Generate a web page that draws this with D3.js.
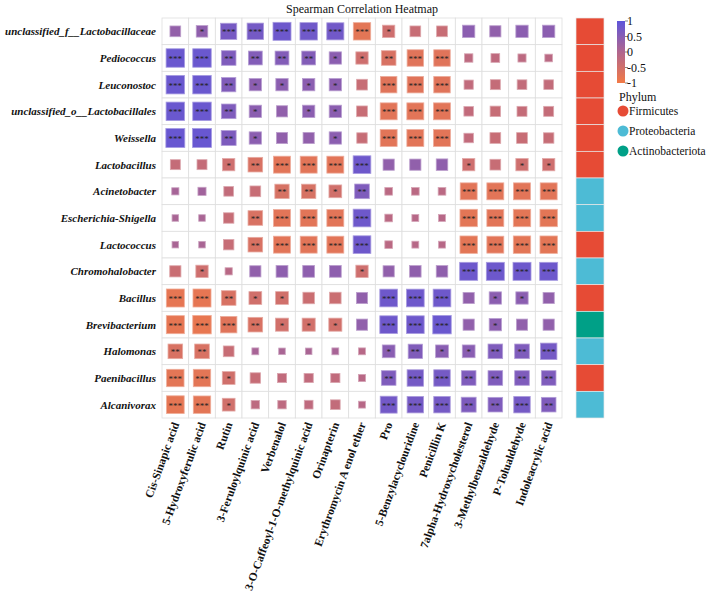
<!DOCTYPE html>
<html><head><meta charset="utf-8">
<script src="https://cdn.jsdelivr.net/npm/d3@7"></script>
<style>body{margin:0;background:#fff}svg{display:block}</style>
</head><body>
<svg id="chart" width="708" height="598"></svg>
<script>
const rowNames = ["unclassified_f__Lactobacillaceae","Pediococcus","Leuconostoc","unclassified_o__Lactobacillales","Weissella","Lactobacillus","Acinetobacter","Escherichia-Shigella","Lactococcus","Chromohalobacter","Bacillus","Brevibacterium","Halomonas","Paenibacillus","Alcanivorax"];
const colNames = ["Cis-Sinapic acid","5-Hydroxyferulic acid","Rutin","3-Feruloylquinic acid","Verbenalol","3-O-Caffeoyl-1-O-methylquinic acid","Orinapterin","Erythromycin A enol ether","Pro","5-Benzylacyclouridine","Penicillin K","7alpha-Hydroxycholesterol","3-Methylbenzaldehyde","P-Tolualdehyde","Indoleacrylic acid"];
const phylumOfRow = ["Firmicutes","Firmicutes","Firmicutes","Firmicutes","Firmicutes","Firmicutes","Proteobacteria","Proteobacteria","Firmicutes","Proteobacteria","Firmicutes","Actinobacteriota","Proteobacteria","Firmicutes","Proteobacteria"];
const phylumNames = ["Firmicutes","Proteobacteria","Actinobacteriota"];
const phylumColors = ["#E64B35","#4DBBD5","#00A087"];
const legendTicks = [1,0.5,0,-0.5,-1];

// correlation coefficients, one array per row
const rValues = [
 [0.35,0.40,0.70,0.72,0.82,0.78,0.76,-0.78,-0.45,-0.35,-0.35,0.45,0.38,0.45,0.45],
 [0.85,0.85,0.60,0.55,0.55,0.55,0.45,-0.45,-0.60,-0.72,-0.72,-0.20,-0.22,-0.18,-0.15],
 [0.85,0.85,0.58,0.45,0.45,0.45,0.45,-0.35,-0.72,-0.72,-0.72,-0.25,-0.30,-0.28,-0.28],
 [0.85,0.85,0.60,0.45,0.38,0.45,0.45,-0.35,-0.75,-0.75,-0.75,-0.27,-0.33,-0.30,-0.30],
 [0.88,0.88,0.62,0.45,0.38,0.38,0.45,-0.33,-0.75,-0.75,-0.75,-0.27,-0.35,-0.35,-0.33],
 [-0.30,-0.30,-0.45,-0.60,-0.75,-0.75,-0.75,0.80,0.38,0.38,0.40,-0.45,-0.35,-0.45,-0.45],
 [0.12,0.18,-0.28,-0.35,-0.58,-0.58,-0.48,0.60,-0.15,-0.15,-0.15,-0.75,-0.75,-0.75,-0.75],
 [0.08,0.08,-0.33,-0.60,-0.75,-0.75,-0.75,0.80,-0.15,-0.10,-0.10,-0.78,-0.75,-0.78,-0.78],
 [0.08,0.08,-0.33,-0.60,-0.75,-0.75,-0.75,0.80,-0.15,-0.10,-0.10,-0.78,-0.75,-0.78,-0.78],
 [-0.38,-0.45,-0.12,0.38,0.42,0.42,0.42,-0.45,0.38,0.40,0.40,0.82,0.82,0.82,0.82],
 [-0.82,-0.82,-0.60,-0.48,-0.48,-0.40,-0.40,0.38,0.80,0.80,0.80,0.38,0.45,0.45,0.38],
 [-0.82,-0.85,-0.72,-0.60,-0.50,-0.50,-0.50,0.38,0.80,0.80,0.85,0.38,0.45,0.38,0.38],
 [-0.60,-0.60,-0.35,0.10,0.08,0.08,0.10,-0.10,0.48,0.58,0.48,0.48,0.60,0.60,0.72],
 [-0.78,-0.78,-0.48,-0.33,-0.25,-0.25,-0.25,-0.12,0.60,0.72,0.72,0.60,0.60,0.60,0.60],
 [-0.80,-0.78,-0.48,-0.20,-0.20,-0.22,-0.28,-0.10,0.75,0.72,0.72,0.62,0.60,0.72,0.60]
];
// significance marks, one array per row
const starMarks = [
 ["","*","***","***","***","***","***","***","*","","","","","",""],
 ["***","***","**","**","**","**","*","*","**","***","***","","","",""],
 ["***","***","**","*","*","*","*","","***","***","***","","","",""],
 ["***","***","**","*","","*","*","","***","***","***","","","",""],
 ["***","***","**","*","","","*","","***","***","***","","","",""],
 ["","","*","**","***","***","***","***","","","","*","","*","*"],
 ["","","","","**","**","*","**","","","","***","***","***","***"],
 ["","","","**","***","***","***","***","","","","***","***","***","***"],
 ["","","","**","***","***","***","***","","","","***","***","***","***"],
 ["","*","","","","","","*","","","","***","***","***","***"],
 ["***","***","**","*","*","","","","***","***","***","","*","*",""],
 ["***","***","***","**","*","*","*","","***","***","***","","*","",""],
 ["**","**","","","","","","","*","**","*","*","**","**","***"],
 ["***","***","*","","","","","","**","***","***","**","**","**","**"],
 ["***","***","*","","","","","","***","***","***","**","**","***","**"]
];

const svg = d3.select("#chart");
const serif = "'Liberation Serif','DejaVu Serif',serif";
const gx0 = 162, gy0 = 18, gSize = 400;
const x = d3.scaleBand().domain(colNames).range([gx0, gx0 + gSize]);
const y = d3.scaleBand().domain(rowNames).range([gy0, gy0 + gSize]);
const color = d3.scaleLinear().domain([-1,0,1]).range(["#F27A46","#B0668E","#5E55DA"]).interpolate(d3.interpolateRgb);
const side = d3.scaleLinear().domain([0,1]).range([0.2*x.bandwidth(), 0.78*x.bandwidth()]);
const phyColor = d3.scaleOrdinal().domain(phylumNames).range(phylumColors);

svg.append("text").attr("x", 362).attr("y", 13).attr("text-anchor","middle")
  .attr("font-family", serif).attr("font-size", 12).attr("fill","#111")
  .text("Spearman Correlation Heatmap");

const cells = [];
rowNames.forEach((r,i)=>colNames.forEach((c,j)=>cells.push({r,c,v:rValues[i][j],s:starMarks[i][j]})));

const g = svg.append("g");
g.selectAll("rect.cell").data(cells).join("rect").attr("class","cell")
  .attr("x", d=>x(d.c)).attr("y", d=>y(d.r))
  .attr("width", x.bandwidth()).attr("height", y.bandwidth())
  .attr("fill","#fff").attr("stroke","#dedede").attr("stroke-width",0.8);

g.selectAll("rect.sq").data(cells).join("rect").attr("class","sq")
  .attr("x", d=>x(d.c)+x.bandwidth()/2-side(Math.abs(d.v))/2)
  .attr("y", d=>y(d.r)+y.bandwidth()/2-side(Math.abs(d.v))/2)
  .attr("width", d=>side(Math.abs(d.v))).attr("height", d=>side(Math.abs(d.v)))
  .attr("fill", d=>color(d.v))
  .attr("stroke", d=>d3.interpolateRgb(color(d.v), "#fff")(0.4)).attr("stroke-width",0.8);

g.selectAll("text.star").data(cells.filter(d=>d.s)).join("text").attr("class","star")
  .attr("x", d=>x(d.c)+x.bandwidth()/2).attr("y", d=>y(d.r)+y.bandwidth()/2+4)
  .attr("text-anchor","middle").attr("font-family", serif).attr("font-size", 9)
  .attr("fill","#222").text(d=>d.s);

// row labels
svg.selectAll("text.rowlab").data(rowNames).join("text").attr("class","rowlab")
  .attr("x", 156).attr("y", d=>y(d)+y.bandwidth()/2+4)
  .attr("text-anchor","end").attr("font-family", serif).attr("font-size", 11)
  .attr("font-style","italic").attr("font-weight","bold").attr("fill","#111").text(d=>d);

// column labels
svg.selectAll("text.collab").data(colNames).join("text").attr("class","collab")
  .attr("transform", d=>`translate(${x(d)+x.bandwidth()/2+4},${gy0+gSize+6}) rotate(-70)`)
  .attr("text-anchor","end").attr("font-family", serif).attr("font-size", 11.5)
  .attr("font-weight","bold").attr("fill","#111").text(d=>d);

// phylum annotation bar
const px = 576, pw = 28;
svg.selectAll("rect.phy").data(rowNames).join("rect").attr("class","phy")
  .attr("x", px).attr("y", d=>y(d)).attr("width", pw).attr("height", y.bandwidth())
  .attr("fill", (d,i)=>phyColor(phylumOfRow[i])).attr("stroke","#e8e8e8").attr("stroke-width",0.7);

// colour legend
const defs = svg.append("defs");
const grad = defs.append("linearGradient").attr("id","cg").attr("x1",0).attr("x2",0).attr("y1",0).attr("y2",1);
[1,0.5,0,-0.5,-1].forEach((v,i)=>grad.append("stop").attr("offset", (i/4*100)+"%").attr("stop-color", color(v)));
const ly = d3.scaleLinear().domain([1,-1]).range([21,83]);
svg.append("rect").attr("x",617).attr("y",ly(1)).attr("width",8).attr("height",ly(-1)-ly(1)).attr("fill","url(#cg)");
svg.selectAll("line.lt").data(legendTicks).join("line").attr("class","lt")
  .attr("x1",625).attr("x2",628).attr("y1",d=>ly(d)).attr("y2",d=>ly(d)).attr("stroke","#333").attr("stroke-width",0.6);
svg.selectAll("text.lt").data(legendTicks).join("text").attr("class","lt")
  .attr("x",627).attr("y",d=>ly(d)+4).attr("font-family",serif).attr("font-size",12).attr("fill","#111")
  .text(d=>d===0?"0":String(d));

svg.append("text").attr("x",619).attr("y",101).attr("font-family",serif).attr("font-size",12).attr("fill","#111").text("Phylum");
svg.selectAll("circle.pl").data(phylumNames).join("circle").attr("class","pl")
  .attr("cx",623).attr("cy",(d,i)=>111+i*20).attr("r",5.5).attr("fill",d=>phyColor(d));
svg.selectAll("text.pl").data(phylumNames).join("text").attr("class","pl")
  .attr("x",629).attr("y",(d,i)=>115+i*20).attr("font-family",serif).attr("font-size",11.5).attr("fill","#111").text(d=>d);
</script>
</body></html>
